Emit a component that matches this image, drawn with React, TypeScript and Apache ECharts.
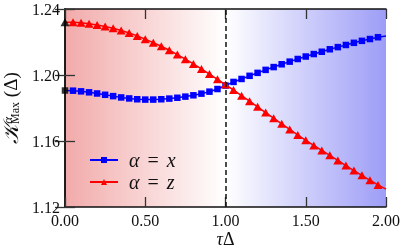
import React, { useEffect, useRef } from 'react';
import * as echarts from 'echarts';

const tau = [
  0, 0.05, 0.1, 0.15, 0.2, 0.25, 0.3, 0.35, 0.4, 0.45, 0.5, 0.55, 0.6, 0.65, 0.7, 0.75, 0.8, 0.85, 0.9, 0.95,
  1.0, 1.05, 1.1, 1.15, 1.2, 1.25, 1.3, 1.35, 1.4, 1.45, 1.5, 1.55, 1.6, 1.65, 1.7, 1.75, 1.8, 1.85, 1.9, 1.95, 2.0,
];

const kappaX = [
  1.1906, 1.1905, 1.1901, 1.1895, 1.1888, 1.188, 1.1872, 1.1864, 1.1858, 1.1853, 1.1851, 1.1851, 1.1853, 1.1857,
  1.1862, 1.1869, 1.1877, 1.1887, 1.1899, 1.1915, 1.1936, 1.1958, 1.1976, 1.1995, 1.2013, 1.2031, 1.2048, 1.2065,
  1.2081, 1.2097, 1.2112, 1.2127, 1.2141, 1.2156, 1.2169, 1.2182, 1.2195, 1.2207, 1.2218, 1.2229, 1.2236,
];

const kappaZ = [
  1.232, 1.2319, 1.2316, 1.231, 1.2303, 1.2294, 1.2283, 1.227, 1.2255, 1.2237, 1.2217, 1.2196, 1.2174, 1.215,
  1.2124, 1.2096, 1.2067, 1.2037, 1.2006, 1.1974, 1.1942, 1.1909, 1.1875, 1.1841, 1.1807, 1.1772, 1.1738, 1.1704,
  1.167, 1.1637, 1.1604, 1.1573, 1.1543, 1.1513, 1.1482, 1.1451, 1.1421, 1.1392, 1.1362, 1.1334, 1.1308,
];

const xTickLabels = ['0.00', '0.50', '1.00', '1.50', '2.00'];
const yTickLabels = ['1.12', '1.16', '1.20', '1.24'];
const criticalTau = [1.0];
const seriesNames = ['α = x', 'α = z'];

const SERIF = '"Liberation Serif", "DejaVu Serif", serif';

export default function App() {
  const ref = useRef<HTMLDivElement>(null);
  useEffect(() => {
    if (!ref.current) return;
    const chart = echarts.init(ref.current, null, { renderer: 'svg' });
    const last = tau.length - 1;
    const mk = (vals: number[], sym: string) =>
      tau.map((t, i) => ({ value: [t, vals[i]], symbol: i === 0 || i === last ? 'none' : sym }));
    const axisLine = { show: true, lineStyle: { color: '#111', width: 1.5 } };
    const axisTick = { show: true, inside: true, length: 10, lineStyle: { color: '#333', width: 1.3 } };
    chart.setOption({
      animation: false,
      grid: {
        left: 65,
        right: 16,
        top: 9,
        bottom: 43,
        containLabel: false,
        outerBoundsMode: 'none',
        show: true,
        borderWidth: 0,
        backgroundColor: new echarts.graphic.LinearGradient(0, 0, 1, 0, [
          { offset: 0, color: '#f2aaaa' },
          { offset: 0.5, color: '#ffffff' },
          { offset: 1, color: '#9d9df7' },
        ]),
      },
      graphic: [
        {
          type: 'text',
          x: 225.5,
          y: 248,
          silent: true,
          style: {
            text: '{i|τ}{n|Δ}',
            align: 'center',
            verticalAlign: 'bottom',
            rich: {
              i: { fontFamily: SERIF, fontStyle: 'italic', fontSize: 18, fill: '#111', lineHeight: 18 },
              n: { fontFamily: SERIF, fontSize: 18, fill: '#111', lineHeight: 18 },
            },
          },
        },
      ],
      legend: {
        data: seriesNames,
        orient: 'vertical',
        left: 89,
        top: 150,
        padding: 0,
        itemWidth: 28,
        itemHeight: 7.5,
        itemGap: 2,
        formatter: (n: string) => (n === seriesNames[0] ? '{i|α}{e|=}{i|x}' : '{i|α}{e|=}{i|z}'),
        textStyle: {
          padding: [0, 0, 0, 6],
          rich: {
            i: { fontFamily: SERIF, fontStyle: 'italic', fontSize: 20, color: '#111' },
            e: { fontFamily: SERIF, fontSize: 20, color: '#111', padding: [0, 8, 0, 8] },
          },
        },
      },
      xAxis: [
        {
          type: 'value',
          min: 0,
          max: 2,
          interval: 0.5,
          position: 'bottom',
          axisLine,
          axisTick,
          splitLine: { show: false },
          axisLabel: {
            margin: 5,
            fontFamily: SERIF,
            fontSize: 16,
            color: '#111',
            formatter: (v: number) => xTickLabels[Math.round(v / 0.5)] ?? v.toFixed(2),
          },
        },
        {
          type: 'value',
          min: 0,
          max: 2,
          interval: 0.5,
          position: 'top',
          axisLine,
          axisTick,
          splitLine: { show: false },
          axisLabel: { show: false },
        },
      ],
      yAxis: [
        {
          type: 'value',
          min: 1.12,
          max: 1.24,
          interval: 0.04,
          position: 'left',
          axisLine,
          axisTick,
          splitLine: { show: false },
          axisLabel: {
            margin: 5,
            fontFamily: SERIF,
            fontSize: 16,
            color: '#111',
            formatter: (v: number) => yTickLabels[Math.round((v - 1.12) / 0.04)] ?? v.toFixed(2),
          },
          name: '{k|𝒦}{sup|α}{sub|Max}{n| (Δ)}',
          nameLocation: 'middle',
          nameGap: 40,
          nameTextStyle: {
            rich: {
              k: { fontFamily: SERIF, fontStyle: 'italic', fontSize: 21, color: '#111', lineHeight: 20 },
              sup: { fontFamily: SERIF, fontStyle: 'italic', fontSize: 13, color: '#111', verticalAlign: 'top', lineHeight: 20 },
              sub: { fontFamily: SERIF, fontSize: 12, color: '#111', verticalAlign: 'bottom', lineHeight: 20, padding: [0, 0, 0, -7] },
              n: { fontFamily: SERIF, fontSize: 19, color: '#111', lineHeight: 20 },
            },
          },
        },
        {
          type: 'value',
          min: 1.12,
          max: 1.24,
          interval: 0.04,
          position: 'right',
          axisLine,
          axisTick,
          splitLine: { show: false },
          axisLabel: { show: false },
        },
      ],
      series: [
        {
          name: seriesNames[0],
          type: 'line',
          data: mk(kappaX, 'rect'),
          symbol: 'rect',
          symbolSize: 6.5,
          showAllSymbol: true,
          lineStyle: { color: '#0000ff', width: 1.5 },
          itemStyle: { color: '#0000ff' },
          z: 3,
          markLine: {
            silent: true,
            symbol: 'none',
            label: { show: false },
            lineStyle: { color: '#111', type: [5, 3], width: 1.5 },
            data: criticalTau.map((t) => ({ xAxis: t })),
          },
        },
        {
          name: seriesNames[1],
          type: 'line',
          data: mk(kappaZ, 'triangle'),
          symbol: 'triangle',
          symbolSize: [9, 8],
          showAllSymbol: true,
          lineStyle: { color: '#ff0000', width: 1.5 },
          itemStyle: { color: '#ff0000' },
          z: 4,
        },
        {
          name: 'x0',
          type: 'scatter',
          data: [[tau[0], kappaX[0]]],
          symbol: 'rect',
          symbolSize: 6.5,
          itemStyle: { color: '#000' },
          z: 5,
        },
        {
          name: 'z0',
          type: 'scatter',
          data: [[tau[0], kappaZ[0]]],
          symbol: 'triangle',
          symbolSize: [9, 8],
          itemStyle: { color: '#000' },
          z: 5,
        },
      ],
    });
    return () => chart.dispose();
  }, []);
  return <div ref={ref} style={{ position: 'fixed', left: 0, top: 0, width: 402, height: 250 }} />;
}
